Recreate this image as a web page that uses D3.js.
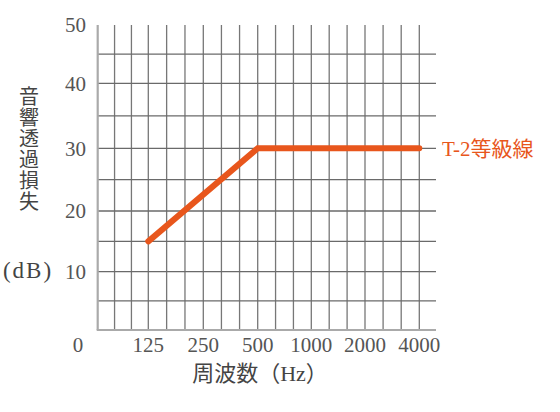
<!DOCTYPE html>
<html><head><meta charset="utf-8">
<script src="https://cdn.jsdelivr.net/npm/d3@7"></script>
<style>html,body{margin:0;padding:0;background:#fff;}svg{display:block;}</style>
</head><body>
<svg id="c" width="560" height="412"></svg>
<script>
// third-octave grid bands (Hz); the last entry is the right edge of the grid
const freqBands = ["63","80","100","125","160","200","250","315","400","500","630","800","1000","1250","1600","2000","2500","3150","4000","5000"];
const xTickLabels = ["125","250","500","1000","2000","4000"];
const yTicks = [10,20,30,40,50];
const yGrid = [5,10,15,20,25,30,35,40,45];
const t2Freqs = ["125","500","4000"];
const t2Values = [15,30,30];
const seriesLabel = "T-2等級線";
const yTitleChars = ["音","響","透","過","損","失"];
const yUnit = "(dB)";
const xTitle = "周波数（Hz）";

const serif = "Liberation Serif, Times New Roman, Tinos, DejaVu Serif, Noto Sans CJK JP";
const orange = "#e8561c";

const svg = d3.select("#c");
const bandIdx = f => freqBands.indexOf(f);
const x = d3.scaleLinear()
  .domain([0,3,6,9,12,15,18,19])
  .range([97.7,148.3,203.3,257.7,311.3,365,419.3,436]);
const y = d3.scaleLinear()
  .domain([0,10,20,30,40,50])
  .range([330,271.7,211,148.3,83.3,25]);

const g = svg.append("g");
g.selectAll("line.v").data(freqBands.slice(1, -1)).join("line")
  .attr("x1", d => x(bandIdx(d))).attr("x2", d => x(bandIdx(d)))
  .attr("y1", y(50)).attr("y2", y(0))
  .attr("stroke", "#777").attr("stroke-width", 1.3);
g.selectAll("line.h").data(yGrid).join("line")
  .attr("x1", x(0)).attr("x2", x(19))
  .attr("y1", d => y(d)).attr("y2", d => y(d))
  .attr("stroke", "#6a6a6a").attr("stroke-width", 1.3);
g.append("line").attr("x1", x(0)).attr("x2", x(0)).attr("y1", y(50)).attr("y2", y(0))
  .attr("stroke", "#aaa").attr("stroke-width", 2.2);
g.append("line").attr("x1", x(0) - 1).attr("x2", x(19)).attr("y1", y(0)).attr("y2", y(0))
  .attr("stroke", "#aaa").attr("stroke-width", 2.2);

const pts = t2Freqs.map((f, i) => [bandIdx(f), t2Values[i]]);
svg.append("path").datum(pts)
  .attr("d", d3.line().x(d => x(d[0])).y(d => y(d[1])))
  .attr("fill", "none").attr("stroke", orange).attr("stroke-width", 6)
  .attr("stroke-linecap", "round").attr("stroke-linejoin", "miter");

svg.selectAll("text.yt").data(yTicks).join("text")
  .attr("x", 86).attr("y", d => y(d)).attr("dy", "0.35em")
  .attr("text-anchor", "end").style("font-family", serif).attr("font-size", 21)
  .attr("fill", "#555").text(d => d);
svg.append("text").attr("x", 78).attr("y", 345).attr("dy", "0.35em")
  .attr("text-anchor", "middle").style("font-family", serif).attr("font-size", 21)
  .attr("fill", "#555").text(0);
svg.selectAll("text.xt").data(xTickLabels).join("text")
  .attr("x", d => x(bandIdx(d))).attr("y", 345).attr("dy", "0.35em")
  .attr("text-anchor", "middle").style("font-family", serif).attr("font-size", 21)
  .attr("fill", "#555").text(d => d);

svg.append("text").attr("x", 442).attr("y", y(30)).attr("dy", "0.35em")
  .style("font-family", serif).attr("font-size", 21).attr("fill", orange).text(seriesLabel);

svg.selectAll("text.ytc").data(yTitleChars).join("text")
  .attr("x", 29).attr("y", (d, i) => 97 + i * 21).attr("dy", "0.35em")
  .attr("text-anchor", "middle").style("font-family", serif).attr("font-size", 20)
  .attr("fill", "#444").text(d => d);
svg.append("text").attr("x", 28).attr("y", 270).attr("dy", "0.35em")
  .attr("text-anchor", "middle").style("font-family", serif).attr("font-size", 23)
  .attr("letter-spacing", 2)
  .attr("fill", "#444").text(yUnit);

svg.append("text").attr("x", 260).attr("y", 381)
  .attr("text-anchor", "middle").style("font-family", serif).attr("font-size", 22)
  .attr("fill", "#444").text(xTitle);
</script>
</body></html>
